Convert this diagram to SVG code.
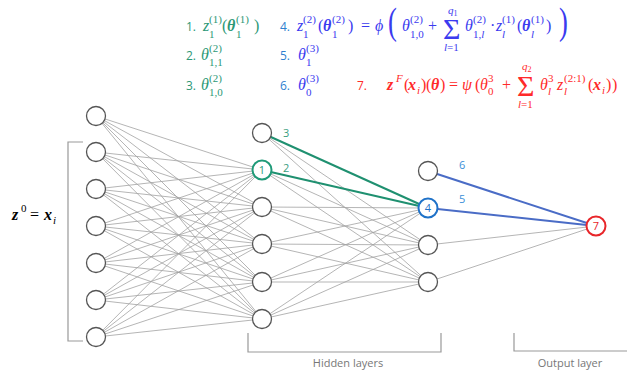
<svg xmlns="http://www.w3.org/2000/svg" width="627" height="374" viewBox="0 0 627 374">
<style>
.n{fill:#fff;stroke:#555;stroke-width:1.3}
.e{stroke:#a2a2a2;stroke-width:0.8}
.m{font-family:"Liberation Serif",serif;font-style:italic;font-size:16px}
.r{font-style:normal}
.b{font-weight:bold}
.s{font-size:11px}
.t{font-size:8px}
.big{font-size:38px}
.sig{font-size:30px}
.num{font-family:"Open Sans","Liberation Sans",sans-serif;font-size:12px}
.lab{font-family:"Open Sans","Liberation Sans",sans-serif;font-size:11px;text-anchor:middle}
.g{fill:#2c9876}
.bl{fill:#3b3bef}
.bn{fill:#2f7fcf}
.rd{fill:#ff2a2a}
.br{fill:none;stroke:#999;stroke-width:1.2}
</style>
<rect width="627" height="374" fill="#fff"/>
<g id="connectors">
<g>
<line class="e" x1="96" y1="116" x2="262" y2="170"/><line class="e" x1="96" y1="116" x2="262" y2="207"/><line class="e" x1="96" y1="116" x2="262" y2="244"/><line class="e" x1="96" y1="116" x2="262" y2="282"/><line class="e" x1="96" y1="116" x2="262" y2="319"/>
<line class="e" x1="96" y1="152" x2="262" y2="170"/><line class="e" x1="96" y1="152" x2="262" y2="207"/><line class="e" x1="96" y1="152" x2="262" y2="244"/><line class="e" x1="96" y1="152" x2="262" y2="282"/><line class="e" x1="96" y1="152" x2="262" y2="319"/>
<line class="e" x1="96" y1="189" x2="262" y2="170"/><line class="e" x1="96" y1="189" x2="262" y2="207"/><line class="e" x1="96" y1="189" x2="262" y2="244"/><line class="e" x1="96" y1="189" x2="262" y2="282"/><line class="e" x1="96" y1="189" x2="262" y2="319"/>
<line class="e" x1="96" y1="226" x2="262" y2="170"/><line class="e" x1="96" y1="226" x2="262" y2="207"/><line class="e" x1="96" y1="226" x2="262" y2="244"/><line class="e" x1="96" y1="226" x2="262" y2="282"/><line class="e" x1="96" y1="226" x2="262" y2="319"/>
<line class="e" x1="96" y1="263" x2="262" y2="170"/><line class="e" x1="96" y1="263" x2="262" y2="207"/><line class="e" x1="96" y1="263" x2="262" y2="244"/><line class="e" x1="96" y1="263" x2="262" y2="282"/><line class="e" x1="96" y1="263" x2="262" y2="319"/>
<line class="e" x1="96" y1="300" x2="262" y2="170"/><line class="e" x1="96" y1="300" x2="262" y2="207"/><line class="e" x1="96" y1="300" x2="262" y2="244"/><line class="e" x1="96" y1="300" x2="262" y2="282"/><line class="e" x1="96" y1="300" x2="262" y2="319"/>
<line class="e" x1="96" y1="337" x2="262" y2="170"/><line class="e" x1="96" y1="337" x2="262" y2="207"/><line class="e" x1="96" y1="337" x2="262" y2="244"/><line class="e" x1="96" y1="337" x2="262" y2="282"/><line class="e" x1="96" y1="337" x2="262" y2="319"/>
</g>
<g>
<line class="e" x1="262" y1="133" x2="428" y2="245"/><line class="e" x1="262" y1="133" x2="428" y2="282"/>
<line class="e" x1="262" y1="170" x2="428" y2="245"/><line class="e" x1="262" y1="170" x2="428" y2="282"/>
<line class="e" x1="262" y1="207" x2="428" y2="208"/><line class="e" x1="262" y1="207" x2="428" y2="245"/><line class="e" x1="262" y1="207" x2="428" y2="282"/>
<line class="e" x1="262" y1="244" x2="428" y2="208"/><line class="e" x1="262" y1="244" x2="428" y2="245"/><line class="e" x1="262" y1="244" x2="428" y2="282"/>
<line class="e" x1="262" y1="282" x2="428" y2="208"/><line class="e" x1="262" y1="282" x2="428" y2="245"/><line class="e" x1="262" y1="282" x2="428" y2="282"/>
<line class="e" x1="262" y1="319" x2="428" y2="208"/><line class="e" x1="262" y1="319" x2="428" y2="245"/><line class="e" x1="262" y1="319" x2="428" y2="282"/>
</g>
<g>
<line class="e" x1="428" y1="245" x2="596" y2="226"/><line class="e" x1="428" y1="282" x2="596" y2="226"/>
</g>
<g stroke="#1f9070" stroke-width="2">
<line x1="262" y1="133" x2="428" y2="208"/><line x1="262" y1="170" x2="428" y2="208"/>
</g>
<g stroke="#4a6cc6" stroke-width="2">
<line x1="428" y1="171" x2="596" y2="226"/><line x1="428" y1="208" x2="596" y2="226"/>
</g>
<g font-family="Open Sans, Liberation Sans, sans-serif" font-size="11">
<text x="283" y="137" fill="#3a9e80">3</text>
<text x="283" y="172" fill="#3a9e80">2</text>
<text x="459" y="169" fill="#3a8fd8">6</text>
<text x="459" y="203" fill="#3a8fd8">5</text>
</g>
</g>
<g id="input-layer">
<circle class="n" cx="96" cy="116" r="9.5"/><circle class="n" cx="96" cy="152" r="9.5"/><circle class="n" cx="96" cy="189" r="9.5"/><circle class="n" cx="96" cy="226" r="9.5"/><circle class="n" cx="96" cy="263" r="9.5"/><circle class="n" cx="96" cy="300" r="9.5"/><circle class="n" cx="96" cy="337" r="9.5"/>
</g>
<g id="hidden-layer-1">
<circle class="n" cx="262" cy="133" r="9.5"/>
<g id="node1"><circle cx="262" cy="170" r="9.5" fill="#fff" stroke="#1f9a78" stroke-width="2"/><text x="262" y="174" class="lab" fill="#1f9a78">1</text></g>
<circle class="n" cx="262" cy="207" r="9.5"/><circle class="n" cx="262" cy="244" r="9.5"/><circle class="n" cx="262" cy="282" r="9.5"/><circle class="n" cx="262" cy="319" r="9.5"/>
</g>
<g id="hidden-layer-2">
<circle class="n" cx="428" cy="171" r="9.5"/>
<g id="node4"><circle cx="428" cy="208" r="9.5" fill="#fff" stroke="#1f72c8" stroke-width="2"/><text x="428" y="212" class="lab" fill="#1f72c8">4</text></g>
<circle class="n" cx="428" cy="245" r="9.5"/><circle class="n" cx="428" cy="282" r="9.5"/>
</g>
<g id="output-node7"><circle cx="596" cy="226" r="9.5" fill="#fff" stroke="#e8262a" stroke-width="2"/><text x="596" y="230" class="lab" fill="#e8262a">7</text></g>
<g id="input-label">
<path class="br" d="M83,142H68V341H83"/>
<text class="m b" x="12" y="220">z</text><text class="m r s" x="21" y="212">0</text><text class="m r" x="30" y="220">=</text><text class="m b" x="44" y="220">x</text><text class="m s" x="53" y="224">i</text>
</g>
<g id="layer-labels">
<path class="br" d="M248,333V352H441V333"/>
<text class="lab" x="348" y="367" fill="#777">Hidden layers</text>
<path class="br" d="M514,333V351H627"/>
<text class="lab" x="570" y="367" fill="#777">Output layer</text>
</g>
<g id="eq-green" class="g">
<text class="num" x="186" y="31">1.</text>
<text class="m" x="203" y="31">z</text><text class="m r s" x="209" y="23">(1)</text><text class="m r s" x="209" y="38">1</text>
<text class="m r" x="222" y="31">(</text><text class="m b" x="227" y="31">θ</text><text class="m r s" x="236" y="23">(1)</text><text class="m r s" x="236" y="38">1</text><text class="m r" x="254" y="31">)</text>
<text class="num" x="186" y="60">2.</text>
<text class="m" x="201" y="60">θ</text><text class="m r s" x="209" y="52">(2)</text><text class="m r s" x="209" y="66">1,1</text>
<text class="num" x="186" y="90">3.</text>
<text class="m" x="201" y="90">θ</text><text class="m r s" x="209" y="82">(2)</text><text class="m r s" x="209" y="96">1,0</text>
</g>
<g id="eq-blue" class="bl">
<text class="num bn" x="280" y="31">4.</text>
<text class="m" x="297" y="31">z</text><text class="m r s" x="303" y="23">(2)</text><text class="m r s" x="303" y="38">1</text>
<text class="m r" x="318" y="31">(</text><text class="m b" x="323" y="31">θ</text><text class="m r s" x="332" y="23">(2)</text><text class="m r s" x="332" y="38">1</text><text class="m r" x="348" y="31">)</text>
<text class="m r" x="361" y="31">=</text><text class="m" x="375" y="31">ϕ</text>
<text class="m r big" transform="translate(388,34) scale(0.7,1)">(</text>
<text class="m" x="402" y="31">θ</text><text class="m r s" x="410" y="23">(2)</text><text class="m r s" x="410" y="38">1,0</text>
<text class="m r" x="428" y="31">+</text>
<text class="m r sig" x="443" y="39">Σ</text>
<text class="m s" x="448" y="14">q<tspan class="r t" dy="2">1</tspan></text>
<text class="m s" x="444" y="51">l<tspan class="r">=1</tspan></text>
<text class="m" x="465" y="31">θ</text><text class="m r s" x="473" y="23">(2)</text><text class="m s" x="473" y="38"><tspan class="r">1,</tspan>l</text>
<text class="m r" x="490" y="31">·</text>
<text class="m" x="496" y="31">z</text><text class="m r s" x="502" y="23">(1)</text><text class="m s" x="502" y="38">l</text>
<text class="m r" x="517" y="31">(</text><text class="m b" x="522" y="31">θ</text><text class="m r s" x="531" y="23">(1)</text><text class="m s" x="531" y="38">l</text><text class="m r" x="546" y="31">)</text>
<text class="m r big" transform="translate(559,34) scale(0.7,1)">)</text>
<text class="num bn" x="280" y="60">5.</text>
<text class="m" x="298" y="60">θ</text><text class="m r s" x="306" y="52">(3)</text><text class="m r s" x="306" y="66">1</text>
<text class="num bn" x="280" y="90">6.</text>
<text class="m" x="298" y="90">θ</text><text class="m r s" x="306" y="82">(3)</text><text class="m r s" x="306" y="96">0</text>
</g>
<g id="eq-red" class="rd">
<text class="num" x="357" y="90">7.</text>
<text class="m b" x="387" y="90">z</text><text class="m s" x="396" y="82">F</text>
<text class="m r" x="404" y="90">(</text><text class="m b" x="408" y="90">x</text><text class="m s" x="417" y="94">i</text><text class="m r" x="421" y="90">)</text>
<text class="m r" x="426" y="90">(</text><text class="m b" x="431" y="90">θ</text><text class="m r" x="440" y="90">)</text>
<text class="m r" x="449" y="90">=</text><text class="m" x="462" y="90">ψ</text>
<text class="m r" x="475" y="90">(</text><text class="m" x="480" y="90">θ</text><text class="m r s" x="488" y="82">3</text><text class="m r s" x="488" y="95">0</text>
<text class="m r" x="502" y="90">+</text>
<text class="m r sig" x="517" y="96">Σ</text>
<text class="m s" x="522" y="70">q<tspan class="r t" dy="2">2</tspan></text>
<text class="m s" x="518" y="108">l<tspan class="r">=1</tspan></text>
<text class="m" x="540" y="90">θ</text><text class="m r s" x="548" y="82">3</text><text class="m s" x="548" y="95">l</text>
<text class="m" x="557" y="90">z</text><text class="m r s" x="564" y="82">(2:1)</text><text class="m s" x="564" y="95">l</text>
<text class="m r" x="588" y="90">(</text><text class="m b" x="593" y="90">x</text><text class="m s" x="602" y="94">i</text><text class="m r" x="606" y="90">)</text><text class="m r" x="612" y="90">)</text>
</g>
</svg>
